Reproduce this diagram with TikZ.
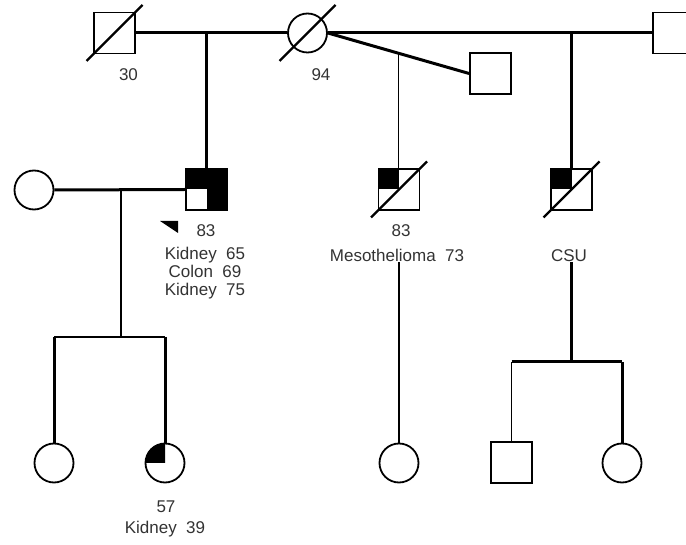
\documentclass[tikz,border=0pt]{standalone}
\usepackage{fontspec}
\setmainfont{Liberation Sans}
\usetikzlibrary{positioning,calc}

\begin{document}
\begin{tikzpicture}[x=1pt,y=1pt,
    male/.style={draw, line width=1.8pt, fill=white, minimum size=41pt, inner sep=0pt},
    female/.style={draw, circle, line width=1.8pt, fill=white, minimum size=39pt, inner sep=0pt},
    mate/.style={line width=3pt},
    sibline/.style={line width=2.4pt},
    child/.style={line width=1.9pt},
    dead/.style={line width=2.2pt},
    lbl/.style={anchor=base, text=black!80, font=\fontsize{17}{18}\selectfont, inner sep=0pt}
]
    \useasboundingbox (0,0) rectangle (686,-545);
    \clip (0,0) rectangle (686,-545);
    \fill[white] (0,0) rectangle (686,-545);

    % Prima generazione
    \node[male] (gfa) at (114.5,-33) {};
    \node[female] (gma) at (307.5,-33) {};
    \node[male] (gfb) at (673.5,-33) {};
    \node[male] (spo) at (490.5,-73.5) {};

    % Seconda generazione
    \node[female] (wife) at (34,-190) {};
    \node[male] (pro) at (206.5,-189.5) {};
    \node[male] (meso) at (399,-189.5) {};
    \node[male] (csu) at (571.5,-189.5) {};

    % Terza generazione
    \node[female] (dau1) at (54,-463) {};
    \node[female] (dau2) at (165,-463) {};
    \node[female] (kid1) at (399,-463) {};
    \node[male] (kid2) at (511.5,-462.5) {};
    \node[female] (kid3) at (622,-463) {};

    % Riempimenti (quadranti)
    \fill (pro.north west) rectangle (pro.east);
    \fill (pro.center) rectangle (pro.south east);
    \fill (meso.north west) rectangle (meso.center);
    \fill (csu.north west) rectangle (csu.center);
    \fill (dau2.center) -- ++(-19.5,0) arc[start angle=180, end angle=90, radius=19.5] -- cycle;

    % Deceduti
    \foreach \n in {gfa,gma,meso,csu} {
        \draw[dead] ($(\n)+(-28,-28)$) -- ($(\n)+(28,28)$);
    }

    % Probando
    \fill ($(pro)+(-46.5,-31.5)$) -- ($(pro)+(-28.5,-31.5)$) -- ($(pro)+(-28.5,-43.5)$) -- cycle;

    % Etichette
    \node[lbl] (gfalbl) at (128.5,-81) {30};
    \node[lbl] (gmalbl) at (321,-81) {94};
    \node[lbl] (proage) at (206,-237) {83};
    \node[lbl] (pro1) at (205,-260) {Kidney\ \ 65};
    \node[lbl] (pro2) at (205,-278) {Colon\ \ 69};
    \node[lbl] (pro3) at (205,-296) {Kidney\ \ 75};
    \node[lbl] (mesoage) at (401,-237) {83};
    \node[lbl] (mesolbl) at (397,-262) {Mesothelioma\ \ 73};
    \node[lbl] (csulbl) at (569,-262) {CSU};
    \node[lbl] (dauage) at (166,-512) {57};
    \node[lbl] (daulbl) at (165,-533) {Kidney\ \ 39};

    % Unioni prima generazione
    \draw[mate] (gfa.east) -- (gma.west);
    \draw[mate] (gma.east) -- (gfb.west);
    \draw[mate] (gma.east) -- (spo.west);
    \coordinate (m1) at (pro.north |- gma.west);
    \draw[mate] (m1) -- (pro.north);
    \coordinate (m2) at (csu.north |- gma.east);
    \draw[mate] (m2) -- (csu.north);
    \coordinate (m3) at ($(gma.east)!0.5!(spo.west)$);
    \draw[child] (m3) -- (m3 |- meso.north);

    % Famiglia del probando
    \draw[mate] (wife.east) -- (pro.west);
    \coordinate (pc) at (121,-190);
    \coordinate (ps) at (121,-337);
    \draw[child] (pc) -- (ps);
    \draw[sibline] (dau1.north |- ps) -- (dau2.north |- ps);
    \draw[mate] (dau1.north |- ps) -- (dau1.north);
    \draw[mate] (dau2.north |- ps) -- (dau2.north);

    % Figlia di meso
    \draw[child] (mesolbl.south -| kid1.north) -- (kid1.north);

    % Figli di CSU
    \coordinate (cs) at (571.5,-362);
    \draw[mate] (csulbl.south -| csu) -- (cs);
    \draw[mate] (kid2.north |- cs) -- (kid3.north |- cs);
    \draw[child] (kid2.north |- cs) -- (kid2.north);
    \draw[mate] (kid3.north |- cs) -- (kid3.north);
\end{tikzpicture}
\end{document}
